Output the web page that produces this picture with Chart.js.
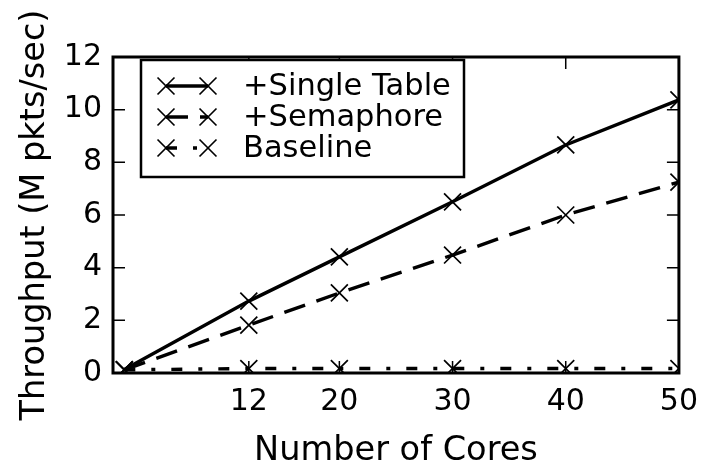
<!DOCTYPE html>
<html>
<head>
<meta charset="utf-8">
<script src="https://cdn.jsdelivr.net/npm/chart.js@4.4.1/dist/chart.umd.min.js"></script>
<style>
  html, body { margin: 0; padding: 0; background: #fff; }
  #wrap { width: 709px; height: 463px; }
</style>
</head>
<body>
<div id="wrap"><canvas id="c" width="709" height="463"></canvas></div>
<script>
const cores = [1, 12, 20, 30, 40, 50];
const singleTable = [0.13, 2.73, 4.41, 6.50, 8.66, 10.37];
const semaphore = [0.12, 1.82, 3.04, 4.48, 6.00, 7.25];
const baseline = [0.12, 0.17, 0.17, 0.17, 0.17, 0.17];
const xTickValues = [12, 20, 30, 40, 50];
const yTickValues = [0, 2, 4, 6, 8, 10, 12];
const seriesNames = ['+Single Table', '+Semaphore', 'Baseline'];

const FONT = 'DejaVu Sans';

function pts(ys) { return cores.map((x, i) => ({ x: x, y: ys[i] })); }

const dashStyles = [[], [22, 12], [11, 16, 4, 16]];

const common = {
  borderColor: '#000',
  backgroundColor: 'transparent',
  borderWidth: 3.4,
  pointStyle: 'crossRot',
  pointRadius: 12,
  pointBorderWidth: 1.7,
  pointBorderColor: '#000',
  pointBackgroundColor: 'transparent',
  fill: false,
  tension: 0,
  clip: 0
};

const framePlugin = {
  id: 'frame',
  afterDatasetsDraw(chart) {
    const ctx = chart.ctx;
    const a = chart.chartArea;
    const xs = chart.scales.x, ys = chart.scales.y;
    ctx.save();
    ctx.strokeStyle = '#000';
    ctx.lineWidth = 1.5;
    const tl = 12;
    ctx.beginPath();
    yTickValues.forEach(v => {
      const py = ys.getPixelForValue(v);
      ctx.moveTo(a.left, py); ctx.lineTo(a.left + tl, py);
      ctx.moveTo(a.right, py); ctx.lineTo(a.right - tl, py);
    });
    xTickValues.forEach(v => {
      const px = xs.getPixelForValue(v);
      ctx.moveTo(px, a.bottom); ctx.lineTo(px, a.bottom - tl);
      ctx.moveTo(px, a.top); ctx.lineTo(px, a.top + tl);
    });
    ctx.stroke();
    ctx.lineWidth = 3;
    ctx.strokeRect(a.left, a.top, a.right - a.left, a.bottom - a.top);
    ctx.restore();
  },
  afterDraw(chart) {
    const ctx = chart.ctx;
    const bx = 141, by = 60, bw = 323, bh = 117;
    ctx.save();
    ctx.fillStyle = '#fff';
    ctx.fillRect(bx, by, bw, bh);
    ctx.strokeStyle = '#000';
    ctx.lineWidth = 2.5;
    ctx.strokeRect(bx, by, bw, bh);
    const rows = [86, 117, 148];
    const x1 = 166, x2 = 208;
    chart.data.datasets.forEach((ds, i) => {
      const y = rows[i];
      ctx.save();
      ctx.beginPath();
      ctx.rect(x1, y - 10, x2 - x1, 20);
      ctx.clip();
      ctx.strokeStyle = '#000';
      ctx.lineWidth = ds.borderWidth;
      ctx.setLineDash(ds.borderDash || []);
      ctx.beginPath();
      ctx.moveTo(x1, y); ctx.lineTo(x2, y);
      ctx.stroke();
      ctx.restore();
      ctx.setLineDash([]);
      ctx.strokeStyle = '#000';
      ctx.lineWidth = ds.pointBorderWidth;
      [x1, x2].forEach(px => {
        Chart.helpers.drawPoint(ctx, { pointStyle: 'crossRot', radius: 12, borderWidth: ds.pointBorderWidth }, px, y);
      });
      ctx.fillStyle = '#000';
      ctx.font = '30.5px "' + FONT + '"';
      ctx.textBaseline = 'middle';
      ctx.textAlign = 'left';
      ctx.fillText(ds.label, 243, y + 1);
    });
    ctx.restore();
  }
};

new Chart(document.getElementById('c'), {
  type: 'line',
  data: {
    datasets: [
      Object.assign({}, common, { label: seriesNames[0], data: pts(singleTable), borderDash: dashStyles[0] }),
      Object.assign({}, common, { label: seriesNames[1], data: pts(semaphore), borderDash: dashStyles[1] }),
      Object.assign({}, common, { label: seriesNames[2], data: pts(baseline), borderDash: dashStyles[2] })
    ]
  },
  options: {
    responsive: false,
    animation: false,
    devicePixelRatio: 1,
    layout: { padding: { left: 0, right: 21, top: 57, bottom: 0 } },
    plugins: { legend: { display: false }, tooltip: { enabled: false } },
    scales: {
      x: {
        type: 'linear',
        min: 0, max: 50,
        afterBuildTicks(s) { s.ticks = xTickValues.map(v => ({ value: v })); },
        afterFit(s) { s.height = 90; },
        grid: { display: false, drawTicks: false },
        border: { display: false },
        ticks: { color: '#000', font: { family: FONT, size: 30 }, padding: 11, maxRotation: 0, autoSkip: false },
        title: { display: true, text: 'Number of Cores', color: '#000', font: { family: FONT, size: 33.6, lineHeight: 1 }, padding: { top: 0, bottom: -5 } }
      },
      y: {
        min: 0, max: 12,
        afterBuildTicks(s) { s.ticks = yTickValues.map(v => ({ value: v })); },
        afterFit(s) { s.width = 113; },
        grid: { display: false, drawTicks: false },
        border: { display: false },
        ticks: { color: '#000', font: { family: FONT, size: 30 }, padding: 11 },
        title: { display: true, text: 'Throughput (M pkts/sec)', color: '#000', font: { family: FONT, size: 33.6, lineHeight: 1 }, padding: { top: 18, bottom: 0 } }
      }
    }
  },
  plugins: [framePlugin]
});
</script>
</body>
</html>
